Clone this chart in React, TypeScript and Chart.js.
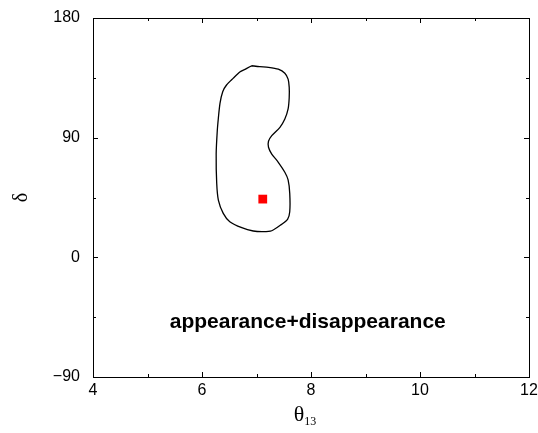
import React, { useEffect, useRef } from "react";
import { Chart, registerables } from "chart.js";

Chart.register(...registerables);

// contour (theta13 in degrees, delta in degrees)
const contourX = [6.91, 7.06, 7.22, 7.4, 7.52, 7.58, 7.6, 7.6, 7.58, 7.52, 7.43, 7.28, 7.22, 7.22, 7.28, 7.4, 7.52, 7.58, 7.61, 7.61, 7.57, 7.46, 7.28, 7.12, 6.94, 6.73, 6.51, 6.39, 6.3, 6.27, 6.26, 6.28, 6.3, 6.33, 6.38, 6.45, 6.57, 6.7, 6.79, 6.91];
const contourY = [144.1, 143.4, 142.9, 141.5, 138.5, 134, 128, 120, 111.6, 104, 97.8, 91.5, 87.3, 82.8, 77.7, 71.5, 64, 58.2, 48.1, 34.3, 28.6, 24.8, 20.0, 19.3, 19.8, 22.3, 26.8, 33.1, 43.1, 55.7, 77.7, 95, 104.6, 115.8, 124.6, 129.6, 134.6, 139.6, 141.4, 144.1];
const bestFitX = [7.115];
const bestFitY = [43.8];

const xTicks = [4, 6, 8, 10, 12];
const xMinorTicks = [5, 7, 9, 11];
const yTicks = [-90, 0, 90, 180];
const yTickLabels = ["\u221290", "0", "90", "180"];
const yMinorTicks = [-45, 45, 135];

const annotationText = "appearance+disappearance";
const annotationX = 7.94;
const annotationY = -48.6;

const framePlugin = {
  id: "frame",
  afterDatasetsDraw(chart: any) {
    const { ctx, chartArea, scales } = chart;
    const { left, right, top, bottom } = chartArea;
    const xs = scales.x;
    const ys = scales.y;
    ctx.save();
    ctx.strokeStyle = "#000";
    ctx.lineWidth = 1;
    ctx.strokeRect(Math.round(left) + 0.5, Math.round(top) + 0.5, Math.round(right - left), Math.round(bottom - top));
    const tick = (px: number, len: number, vertical: boolean) => {
      const p = Math.round(px) + 0.5;
      ctx.beginPath();
      if (vertical) {
        ctx.moveTo(p, bottom);
        ctx.lineTo(p, bottom - len);
        ctx.moveTo(p, top);
        ctx.lineTo(p, top + len);
      } else {
        ctx.moveTo(left, p);
        ctx.lineTo(left + len, p);
        ctx.moveTo(right, p);
        ctx.lineTo(right - len, p);
      }
      ctx.stroke();
    };
    xTicks.forEach((v) => tick(xs.getPixelForValue(v), 5, true));
    xMinorTicks.forEach((v) => tick(xs.getPixelForValue(v), 3, true));
    yTicks.forEach((v) => tick(ys.getPixelForValue(v), 5, false));
    yMinorTicks.forEach((v) => tick(ys.getPixelForValue(v), 3, false));

    // annotation
    ctx.fillStyle = "#000";
    ctx.font = "bold 21px 'Liberation Sans', Arial, sans-serif";
    ctx.textAlign = "center";
    ctx.textBaseline = "middle";
    ctx.fillText(annotationText, xs.getPixelForValue(annotationX), ys.getPixelForValue(annotationY));

    // x title theta_13
    const cx = (left + right) / 2 - 6;
    ctx.font = "22px 'Liberation Serif', 'Times New Roman', serif";
    ctx.textAlign = "left";
    ctx.textBaseline = "alphabetic";
    const tw = ctx.measureText("\u03b8").width;
    ctx.font = "12px 'Liberation Serif', 'Times New Roman', serif";
    const sw = ctx.measureText("13").width;
    const startX = cx - (tw + sw) / 2;
    ctx.font = "22px 'Liberation Serif', 'Times New Roman', serif";
    ctx.fillText("\u03b8", startX, 421);
    ctx.font = "12px 'Liberation Serif', 'Times New Roman', serif";
    ctx.fillText("13", startX + tw, 425);

    // y title delta
    ctx.save();
    ctx.translate(22, (top + bottom) / 2);
    ctx.rotate(-Math.PI / 2);
    ctx.font = "20px 'Liberation Serif', 'Times New Roman', serif";
    ctx.textAlign = "center";
    ctx.textBaseline = "middle";
    ctx.fillText("\u03b4", 0, 0);
    ctx.restore();
    ctx.restore();
  },
};

export default function App() {
  const ref = useRef<HTMLCanvasElement>(null);
  useEffect(() => {
    if (!ref.current) return;
    const chart = new Chart(ref.current, {
      type: "scatter",
      data: {
        datasets: [
          {
            data: contourX.map((x, i) => ({ x, y: contourY[i] })),
            showLine: true,
            borderColor: "#000",
            borderWidth: 1.3,
            pointRadius: 0,
            tension: 0.25,
            fill: false,
          },
          {
            data: bestFitX.map((x, i) => ({ x, y: bestFitY[i] })),
            pointStyle: "rect",
            pointRadius: 6.2,
            backgroundColor: "#ff0000",
            borderColor: "#ff0000",
            borderWidth: 0,
          },
        ],
      },
      options: {
        responsive: false,
        animation: false,
        layout: { padding: { top: 18, right: 9, left: 0, bottom: 0 } },
        plugins: { legend: { display: false }, tooltip: { enabled: false } },
        scales: {
          x: {
            type: "linear",
            min: 4,
            max: 12,
            afterBuildTicks: (s: any) => {
              s.ticks = xTicks.map((v) => ({ value: v }));
            },
            ticks: {
              color: "#000",
              font: { size: 16, family: "'Liberation Sans', Arial, sans-serif" },
              padding: 4,
              maxRotation: 0,
              autoSkip: false,
            },
            grid: { display: false, drawTicks: false },
            border: { display: false },
            afterFit: (s: any) => {
              s.height = 56;
              s.paddingLeft = 0;
              s.paddingRight = 0;
            },
          },
          y: {
            type: "linear",
            min: -90,
            max: 180,
            afterBuildTicks: (s: any) => {
              s.ticks = yTicks.map((v) => ({ value: v }));
            },
            ticks: {
              color: "#000",
              font: { size: 16, family: "'Liberation Sans', Arial, sans-serif" },
              padding: 13,
              autoSkip: false,
              callback: (v: any) => {
                const i = yTicks.indexOf(Number(v));
                return i >= 0 ? yTickLabels[i] : "";
              },
            },
            grid: { display: false, drawTicks: false },
            border: { display: false },
            afterFit: (s: any) => {
              s.width = 93;
              s.paddingTop = 0;
              s.paddingBottom = 0;
            },
          },
        },
      },
      plugins: [framePlugin],
    });
    return () => chart.destroy();
  }, []);
  return (
    <div style={{ position: "absolute", left: 0, top: 0, width: 538, height: 433, background: "#fff" }}>
      <canvas ref={ref} width={538} height={433} />
    </div>
  );
}
